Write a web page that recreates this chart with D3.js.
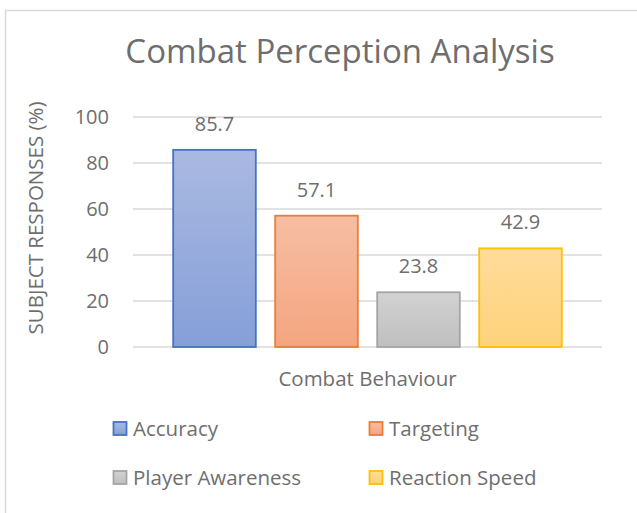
<!DOCTYPE html>
<html>
<head>
<meta charset="utf-8">
<script src="https://cdn.jsdelivr.net/npm/d3@7"></script>
<style>
  body { margin: 0; background: #fff; }
  text { font-family: "Open Sans", Lato, sans-serif; fill: #6e6e6e; }
</style>
</head>
<body>
<div id="chart"></div>
<script>
const category = "Combat Behaviour";
const seriesNames = ["Accuracy", "Targeting", "Player Awareness", "Reaction Speed"];
const values = [85.7, 57.1, 23.8, 42.9];
const yTicks = [0, 20, 40, 60, 80, 100];

const fillTop = ["#aab9e1", "#f6bea3", "#d2d2d2", "#fedc9c"];
const fillBottom = ["#869fd8", "#f4a580", "#bfbfbf", "#fed27a"];
const strokes = ["#4472c4", "#ed7d31", "#a5a5a5", "#ffc000"];

const width = 637, height = 513;
const margin = { top: 117, right: 35, bottom: 167, left: 133 };

const svg = d3.select("#chart")
    .append("svg")
    .attr("width", width)
    .attr("height", height);

const defs = svg.append("defs");
seriesNames.forEach((s, i) => {
    const g = defs.append("linearGradient")
        .attr("id", "grad" + i)
        .attr("x1", 0).attr("y1", 0).attr("x2", 0).attr("y2", 1);
    g.append("stop").attr("offset", "0%").attr("stop-color", fillTop[i]);
    g.append("stop").attr("offset", "100%").attr("stop-color", fillBottom[i]);
});

// chart border
svg.append("rect")
    .attr("x", 5.5).attr("y", 10.5)
    .attr("width", 700).attr("height", 600)
    .attr("fill", "none")
    .attr("stroke", "#d9d9d9")
    .attr("stroke-width", 1.5);

const x = d3.scaleBand()
    .domain(seriesNames)
    .range([margin.left, width - margin.right])
    .paddingInner(0.19)
    .paddingOuter(0.394);

const y = d3.scaleLinear()
    .domain([0, 100])
    .range([height - margin.bottom + 1, margin.top]);

// gridlines
svg.append("g")
    .selectAll("line")
    .data(yTicks)
    .join("line")
    .attr("x1", margin.left)
    .attr("x2", width - margin.right)
    .attr("y1", d => y(d))
    .attr("y2", d => y(d))
    .attr("stroke", "#d9d9d9")
    .attr("stroke-width", 1.3);

const yAxis = d3.axisLeft(y).tickValues(yTicks).tickSize(0).tickPadding(24);
svg.append("g")
    .attr("transform", `translate(${margin.left},0)`)
    .call(yAxis)
    .call(g => g.select(".domain").remove())
    .selectAll("text")
    .style("font-family", "'Open Sans', sans-serif")
    .style("font-size", "20px")
    .attr("fill", "#6e6e6e");

// bars
svg.append("g")
    .selectAll("rect")
    .data(values)
    .join("rect")
    .attr("x", (d, i) => x(seriesNames[i]))
    .attr("y", d => y(d))
    .attr("width", x.bandwidth())
    .attr("height", d => y(0) - y(d))
    .attr("fill", (d, i) => `url(#grad${i})`)
    .attr("stroke", (d, i) => strokes[i])
    .attr("stroke-width", 1.8);

// value labels
svg.append("g")
    .selectAll("text")
    .data(values)
    .join("text")
    .attr("x", (d, i) => x(seriesNames[i]) + x.bandwidth() / 2)
    .attr("y", d => y(d) - 19)
    .attr("text-anchor", "middle")
    .style("font-size", "20px")
    .text(d => d.toFixed(1));

// title
svg.append("text")
    .attr("x", 340)
    .attr("y", 63)
    .attr("text-anchor", "middle")
    .style("font-size", "33px")
    .attr("fill", "#757575")
    .text("Combat Perception Analysis");

// y axis title
svg.append("text")
    .attr("transform", "rotate(-90)")
    .attr("x", -218)
    .attr("y", 43)
    .attr("text-anchor", "middle")
    .style("font-size", "20.5px")
    .text("SUBJECT RESPONSES (%)");

// x axis title
svg.append("text")
    .attr("x", (margin.left + width - margin.right) / 2)
    .attr("y", 386)
    .attr("text-anchor", "middle")
    .style("font-size", "20.5px")
    .text(category);

// legend
const legendPos = [[113, 429], [369, 429], [113, 478], [369, 478]];
const legend = svg.append("g")
    .selectAll("g")
    .data(seriesNames)
    .join("g")
    .attr("transform", (d, i) => `translate(${legendPos[i][0]},${legendPos[i][1]})`);

legend.append("rect")
    .attr("x", 0.5).attr("y", -7)
    .attr("width", 13).attr("height", 13)
    .attr("fill", (d, i) => `url(#grad${i})`)
    .attr("stroke", (d, i) => strokes[i])
    .attr("stroke-width", 1.8);

legend.append("text")
    .attr("x", 20)
    .attr("y", 7)
    .style("font-size", "20.5px")
    .text(d => d);
</script>
</body>
</html>
